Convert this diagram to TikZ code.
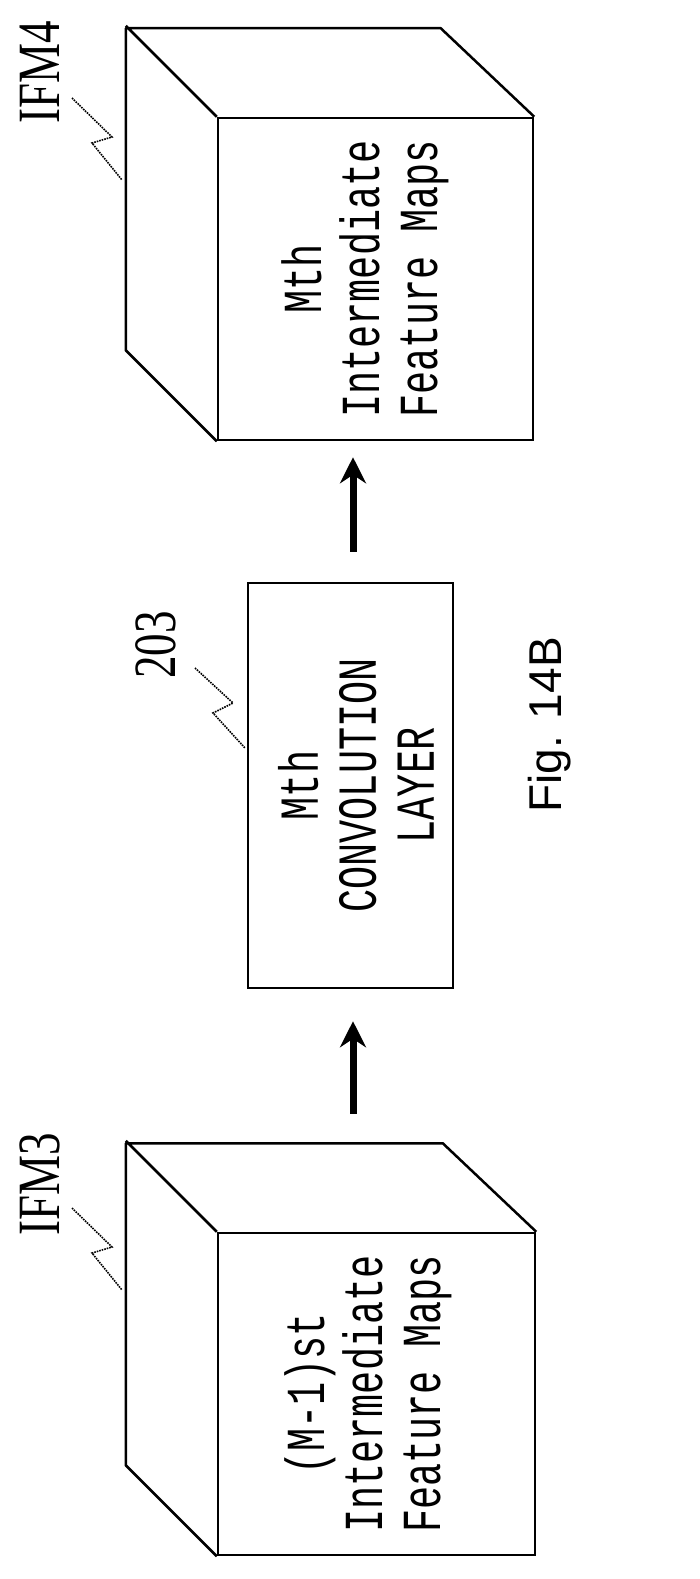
\documentclass[tikz,border=0pt]{standalone}
\usepackage{fontspec}
\usepackage{tikz}
\usetikzlibrary{arrows.meta}
\usetikzlibrary{calc}
\newfontfamily\facefont[FakeStretch=0.7]{Liberation Mono}
\newfontfamily\reffont[FakeStretch=0.75]{Liberation Serif}
\newfontfamily\figfont{Liberation Sans}

\begin{document}
\begin{tikzpicture}[x=1pt, y=-1pt, >=Stealth,
    face/.style={draw, line width=2.5pt, minimum width=#1, minimum height=322pt, inner sep=0pt},
    facetext/.style={rotate=90, align=center, font=\facefont\fontsize{55}{58}\selectfont},
    reftext/.style={rotate=90, font=\reffont\fontsize{60}{60}\selectfont},
    leader/.style={densely dotted, line width=1.6pt},
    flow/.style={line width=7pt, -{Stealth[length=26pt, width=26pt]}}]

        % Frame
        \useasboundingbox (0,0) rectangle (699,1579);

        % Nth cube (top)
        \node[face=315pt] (ifm4) at (375.5,279) {};
        \draw[line width=2.5pt, line join=round] (ifm4.south west) -- ++(-91,-91) -- ++(0,-322) -- ++(315,0) -- (ifm4.north east)
            (ifm4.north west) -- ++(-91,-91);
        \node[facetext] (ifm4txt) at (365,279) {Mth\\Intermediate\\Feature Maps};

        % Convolution layer box
        \node[draw, line width=2.5pt, minimum width=205pt, minimum height=405pt, inner sep=0pt] (conv) at (350.5,785.5) {};
        \node[facetext] (convtxt) at (356,785.5) {Mth\\CONVOLUTION\\LAYER};

        % (M-1)st cube (bottom)
        \node[face=317pt] (ifm3) at (376.5,1394) {};
        \draw[line width=2.5pt, line join=round] (ifm3.south west) -- ++(-91,-91) -- ++(0,-322) -- ++(317,0) -- (ifm3.north east)
            (ifm3.north west) -- ++(-91,-91);
        \node[facetext] (ifm3txt) at (368,1394) {(M-1)st\\Intermediate\\Feature Maps};

        % Arrows
        \draw[flow, shorten <=30pt, shorten >=16pt] ([xshift=2.5pt]conv.north) -- ([xshift=2.5pt]conv.north |- ifm4.south);
        \draw[flow, shorten <=118pt, shorten >=32pt] ([xshift=2.5pt]conv.south |- ifm3.north) -- ([xshift=2.5pt]conv.south);

        % Reference labels
        \node[reftext] (lbl4) at (40,72) {IFM4};
        \node[reftext] (lbl3) at (40,1184) {IFM3};
        \node[rotate=90, font=\reffont\fontsize{60}{60}\selectfont] (lbl203) at (156,645) {203};
        \coordinate (end4) at (122,180);
        \coordinate (end3) at (122,1290);
        \coordinate (end203) at (245,748);
        \draw[leader] (72,98) -- (112,137) -- (92,143) -- (end4);
        \draw[leader] (72,1208) -- (112,1247) -- (92,1253) -- (end3);
        \draw[leader] (195,668) -- (233,703) -- (213,713) -- (end203);

        % Figure caption
        \node[rotate=90, font=\figfont\fontsize{46}{46}\selectfont] (cap) at (550,725) {Fig. 14B};

    \end{tikzpicture}
\end{document}
